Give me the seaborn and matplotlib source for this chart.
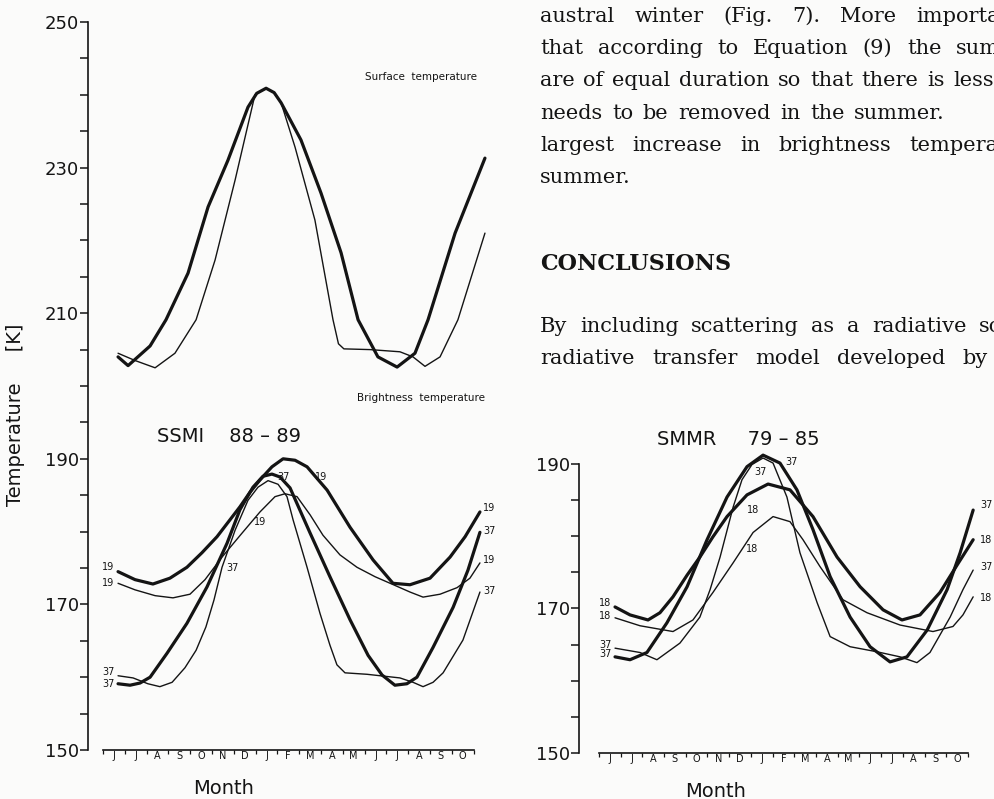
import numpy as np
import matplotlib
matplotlib.use("Agg")
import matplotlib.pyplot as plt
from matplotlib.ticker import FixedLocator
import seaborn as sns

# Month axis: June of one year to October of the next (x = months since 1 June)
months = ['J', 'J', 'A', 'S', 'O', 'N', 'D', 'J', 'F', 'M', 'A', 'M', 'J', 'J', 'A', 'S', 'O']

# Surface temperature [K]
surf_thick_x = [0.69, 1.15, 2.16, 2.89, 3.90, 4.82, 5.73, 6.65, 7.05, 7.48, 7.85, 8.17, 9.08, 10.00,
                10.92, 11.70, 12.61, 13.49, 14.31, 14.91, 16.15, 17.52]
surf_thick_t = [204.0, 202.8, 205.5, 209.1, 215.5, 224.6, 231.0, 238.3, 240.2, 240.9, 240.3, 238.9, 233.8, 226.5,
                218.3, 209.1, 204.0, 202.6, 204.5, 209.1, 221.0, 231.3]
surf_thin_x = [0.69, 1.47, 2.39, 3.30, 4.27, 5.14, 6.06, 6.97, 7.48, 7.85, 8.17, 8.81, 9.72, 10.55,
               10.80, 11.05, 12.25, 13.62, 14.22, 14.77, 15.46, 16.28, 17.52]
surf_thin_t = [204.5, 203.5, 202.5, 204.5, 209.1, 217.3, 228.3, 240.0, 240.9, 240.3, 238.9, 232.8, 222.8, 209.1,
               205.8, 205.1, 205.0, 204.7, 204.0, 202.7, 204.0, 209.1, 221.0]

# SSMI 88-89 brightness temperature [K], 19 and 37 GHz
ssmi19_thick_x = [0.69, 1.47, 2.29, 3.07, 3.85, 4.54, 5.23, 6.28, 6.74, 7.20, 7.75, 8.26, 8.81, 9.36,
                  10.28, 11.33, 12.39, 13.30, 14.08, 15.00, 15.92, 16.61, 17.29]
ssmi19_thick_t = [174.5, 173.4, 172.8, 173.6, 175.1, 177.1, 179.3, 183.4, 185.4, 187.1, 188.9, 190.0, 189.8, 188.9,
                  185.7, 180.6, 176.1, 172.9, 172.7, 173.6, 176.5, 179.3, 182.7]
ssmi19_thin_x = [0.69, 1.47, 2.39, 3.21, 3.99, 4.68, 5.46, 6.38, 7.20, 7.89, 8.35, 8.90, 9.50, 10.09,
                 10.87, 11.65, 12.48, 13.17, 14.08, 14.68, 15.46, 16.24, 16.83, 17.29]
ssmi19_thin_t = [172.9, 172.0, 171.2, 170.9, 171.4, 173.4, 176.5, 179.8, 182.7, 184.8, 185.2, 184.8, 182.3, 179.5,
                 176.8, 175.1, 173.8, 172.9, 171.7, 171.0, 171.4, 172.3, 173.6, 175.7]
ssmi37_thick_x = [0.69, 1.24, 1.70, 2.16, 2.94, 3.85, 4.77, 5.69, 6.28, 6.88, 7.34, 7.75, 8.12, 8.58,
                  9.50, 10.41, 11.33, 12.16, 12.80, 13.39, 13.94, 14.40, 15.14, 16.06, 16.74, 17.29]
ssmi37_thick_t = [159.1, 158.9, 159.2, 160.0, 163.3, 167.4, 172.4, 178.4, 183.0, 186.1, 187.6, 187.9, 187.5, 186.0,
                  179.8, 173.8, 167.9, 163.0, 160.3, 158.9, 159.1, 160.0, 164.1, 169.6, 174.7, 179.9]
ssmi37_thin_x = [0.69, 1.38, 2.06, 2.61, 3.17, 3.76, 4.27, 4.72, 5.09, 5.46, 6.06, 6.65, 7.11, 7.57, 8.03,
                 8.44, 8.72, 9.36, 9.95, 10.41, 10.73, 11.10, 12.11, 13.62, 14.22, 14.68, 15.14, 15.60,
                 16.51, 17.29]
ssmi37_thin_t = [160.2, 159.9, 159.1, 158.7, 159.3, 161.3, 163.7, 166.9, 170.6, 175.1, 180.2, 184.3, 186.1, 187.0,
                 186.5, 184.8, 181.6, 175.1, 168.8, 164.4, 161.7, 160.6, 160.4, 159.9, 159.3, 158.7, 159.3,
                 160.6, 165.1, 171.7]

# SMMR 79-85 brightness temperature [K], 18 and 37 GHz
smmr18_thick_x = [0.74, 1.43, 2.26, 2.81, 3.41, 4.06, 4.65, 5.25, 5.90, 6.82, 7.79, 8.80, 9.86, 10.97,
                  12.03, 13.09, 13.96, 14.79, 15.71, 16.50, 17.24]
smmr18_thick_t = [170.2, 169.1, 168.4, 169.4, 171.6, 174.6, 177.1, 179.9, 182.7, 185.7, 187.2, 186.4, 182.7, 177.1,
                  173.0, 169.8, 168.4, 169.1, 172.2, 176.0, 179.5]
smmr18_thin_x = [0.74, 1.89, 3.41, 4.33, 5.25, 6.18, 7.10, 8.02, 8.80, 9.40, 10.18, 11.24, 12.35, 13.87,
                 15.39, 16.31, 16.77, 17.24]
smmr18_thin_t = [168.7, 167.6, 166.8, 168.4, 172.2, 176.3, 180.5, 182.7, 182.0, 179.5, 175.8, 171.2, 169.4, 167.7,
                 166.8, 167.5, 169.1, 171.6]
smmr37_thick_x = [0.74, 1.43, 2.21, 3.13, 4.06, 4.98, 5.90, 6.82, 7.56, 8.34, 9.12, 9.86, 10.65, 11.57,
                  12.49, 13.41, 14.19, 15.12, 16.04, 16.64, 17.24]
smmr37_thick_t = [163.3, 162.9, 163.9, 168.0, 173.0, 179.5, 185.4, 189.6, 191.2, 190.1, 186.4, 180.9, 174.4, 168.8,
                  164.7, 162.6, 163.3, 167.0, 172.6, 177.7, 183.6]
smmr37_thin_x = [0.74, 1.89, 2.67, 3.73, 4.65, 5.12, 5.58, 6.18, 6.59, 7.05, 7.56, 8.02, 8.66, 9.26, 10.05,
                 10.65, 11.57, 12.81, 13.87, 14.65, 15.25, 16.18, 16.77, 17.24]
smmr37_thin_t = [164.5, 163.9, 162.9, 165.2, 168.8, 172.6, 177.1, 184.0, 187.8, 189.9, 190.8, 190.1, 185.4, 177.7,
                 170.8, 166.1, 164.7, 164.0, 163.3, 162.5, 163.9, 168.8, 172.6, 175.3]

# journal text beside the figure
text_top = ["austral winter (Fig. 7). More importa",
            "that according to Equation (9) the sum",
            "are of equal duration so that there is less",
            "needs to be removed in the summer.",
            "largest increase in brightness tempera",
            "summer."]
text_heading = "CONCLUSIONS"
text_bottom = ["By including scattering as a radiative so",
               "radiative transfer model developed by"]

INK = '#141414'
BG = '#fbfbfa'
THICK = 2.3
THIN = 1.0

sns.set_theme(style='white')
plt.rcParams['font.family'] = ['DejaVu Sans']
plt.rcParams['text.color'] = INK

W, H = 994, 799
fig = plt.figure(figsize=(W / 100, H / 100), dpi=100)
fig.patch.set_facecolor(BG)

# left panel: 250 K at y=22 px, 150 K at y=750 px; 21.8 px per month
ax1 = fig.add_axes([88 / W, 1 - 750 / H, 398.7 / W, 728 / H])
# right panel: 150 K at y=753 px, 7.23 px per K; 21.7 px per month
ax2 = fig.add_axes([579 / W, 1 - 753 / H, 415 / W, 50 * 7.23 / H])

ax1.set_xlim(-0.688, 17.6)
ax1.set_ylim(150, 250)
ax2.set_xlim(-0.92, 18.2)
ax2.set_ylim(150, 200)


def draw(ax, xs, ys, lw):
    sns.lineplot(x=xs, y=ys, ax=ax, color=INK, linewidth=lw, sort=False,
                 estimator=None, solid_capstyle='round')


def tag(ax, xs, ys, label, end, dx, dy):
    if end == 'start':
        pos, ha = (xs[0], ys[0]), 'right'
    else:
        pos, ha = (xs[-1], ys[-1]), 'left'
    ax.annotate(label, pos, xytext=(dx, dy), textcoords='offset points',
                ha=ha, va='center', fontsize=7, color=INK)


draw(ax1, surf_thick_x, surf_thick_t, THICK)
draw(ax1, surf_thin_x, surf_thin_t, THIN)

ssmi = [(ssmi19_thick_x, ssmi19_thick_t, THICK, '19', 3, 3),
        (ssmi19_thin_x, ssmi19_thin_t, THIN, '19', 0.5, 2),
        (ssmi37_thick_x, ssmi37_thick_t, THICK, '37', 0, 1),
        (ssmi37_thin_x, ssmi37_thin_t, THIN, '37', 3, 0.5)]
for xs, ys, lw, lab, dy0, dy1 in ssmi:
    draw(ax1, xs, ys, lw)
    tag(ax1, xs, ys, lab, 'start', -2.5, dy0)
    tag(ax1, xs, ys, lab, 'end', 2.5, dy1)

smmr = [(smmr18_thick_x, smmr18_thick_t, THICK, '18', 3, 0),
        (smmr18_thin_x, smmr18_thin_t, THIN, '18', 1, -1),
        (smmr37_thick_x, smmr37_thick_t, THICK, '37', 2, 3.5),
        (smmr37_thin_x, smmr37_thin_t, THIN, '37', 2, 2)]
for xs, ys, lw, lab, dy0, dy1 in smmr:
    draw(ax2, xs, ys, lw)
    tag(ax2, xs, ys, lab, 'start', -2.5, dy0)
    tag(ax2, xs, ys, lab, 'end', 5, dy1)

# labels sitting inside the curves
for lab, x, y in [('37', 8.30, 187.5), ('19', 10.0, 187.5), ('19', 7.20, 181.3), ('37', 5.96, 175.0)]:
    ax1.text(x, y, lab, fontsize=7, ha='center', va='center')
for lab, x, y in [('37', 8.89, 190.3), ('37', 7.42, 188.8), ('18', 7.10, 183.6), ('18', 7.05, 178.2)]:
    ax2.text(x, y, lab, fontsize=7, ha='center', va='center')

ax1.text(14.6, 242.4, 'Surface  temperature', fontsize=7.5, ha='center', va='center')
ax1.text(14.6, 198.4, 'Brightness  temperature', fontsize=7.5, ha='center', va='center')
ax1.text(2.48, 193.1, 'SSMI    88 \u2013 89', fontsize=14, ha='left', va='center')
ax2.text(2.67, 193.3, 'SMMR     79 \u2013 85', fontsize=14, ha='left', va='center')

for ax, top in [(ax1, 250), (ax2, 190)]:
    ax.set_facecolor('none')
    for s in ['top', 'right']:
        ax.spines[s].set_visible(False)
    ax.spines['left'].set_bounds(150, top)
    ax.spines['bottom'].set_bounds(0, 17)
    for s in ['left', 'bottom']:
        ax.spines[s].set_color(INK)
        ax.spines[s].set_linewidth(1.2)
    ax.set_yticks(np.arange(150, top + 1, 20))
    ax.yaxis.set_minor_locator(FixedLocator(np.arange(150, top + 1, 5)))
    ax.tick_params(axis='y', which='both', direction='out', length=5.5, width=1.1,
                   color=INK, pad=1, labelsize=13, labelcolor=INK, left=True)
    ax.set_xticks(np.arange(18))
    ax.set_xticklabels([''] * 18)
    ax.set_xticks(np.arange(17) + 0.5, minor=True)
    ax.set_xticklabels(months, minor=True)
    ax.tick_params(axis='x', which='major', direction='out', length=3, width=0.9,
                   color=INK, bottom=True)
    ax.tick_params(axis='x', which='minor', length=0, pad=1, labelsize=7,
                   labelcolor=INK, bottom=True)
    ax.set_xlabel('Month', fontsize=14, color=INK)
    ax.grid(False)

ax1.xaxis.set_label_coords(0.339, -0.040)
ax2.xaxis.set_label_coords(0.328, -0.080)
ax1.set_ylabel('Temperature     [K]', fontsize=14, color=INK)
ax1.yaxis.set_label_coords(-0.158, 0.46)
ax2.set_ylabel('')

# justified body text on the right, clipped by the page edge like the scan
renderer = fig.canvas.get_renderer()
serif = dict(family='DejaVu Serif', fontsize=15, color=INK, va='baseline')


def justified(line, x0, x1, base):
    objs = [fig.text(0, 1 - base / H, w, **serif) for w in line.split()]
    widths = [o.get_window_extent(renderer).width for o in objs]
    gap = (x1 - x0 - sum(widths)) / max(len(objs) - 1, 1)
    x = x0
    for o, w in zip(objs, widths):
        o.set_x(x / W)
        x += w + gap


right_edges = [1000, 1000, 994, 945, 998, None]
for i, (line, x1) in enumerate(zip(text_top, right_edges)):
    base = 22 + i * 32.2
    if x1 is None:
        fig.text(540 / W, 1 - base / H, line, **serif)
    else:
        justified(line, 540, x1, base)
heading = dict(serif, fontsize=16, fontweight='bold')
fig.text(540 / W, 1 - 270 / H, text_heading, **heading)
justified(text_bottom[0], 540, 1002, 332)
justified(text_bottom[1], 540, 988, 364)

fig.savefig('out.png', dpi=100, facecolor=BG)
